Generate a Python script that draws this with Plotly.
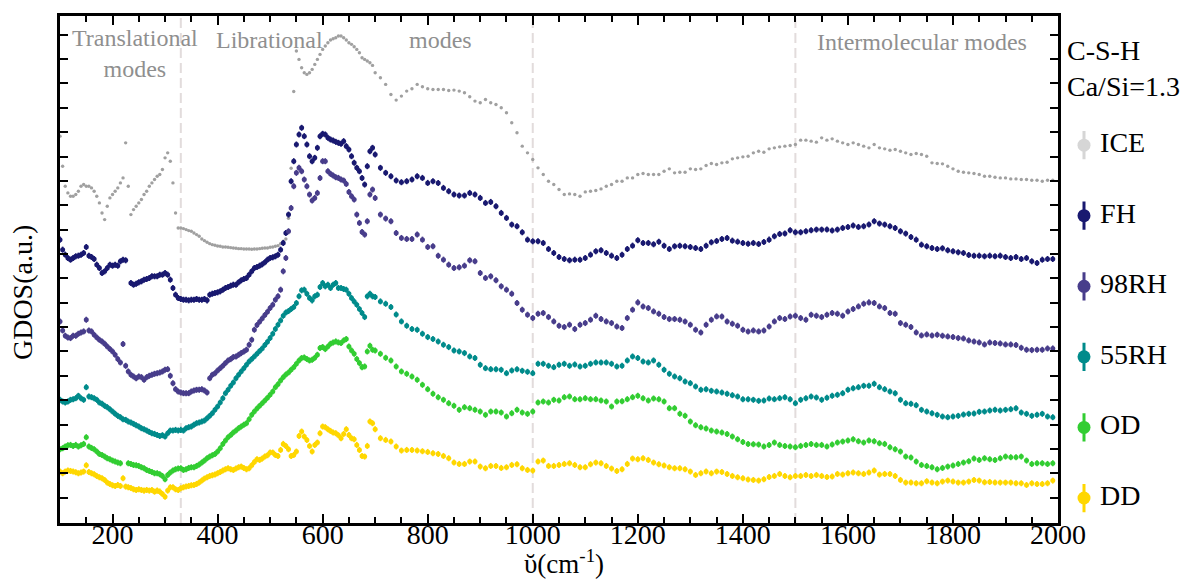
import plotly.graph_objects as go

# Frequency grid (cm-1)
FREQ = [
    100, 105, 110, 115, 120, 125, 130, 135, 140, 145,
    150, 155, 160, 165, 170, 175, 180, 185, 190, 195,
    200, 205, 210, 215, 220, 225, 230, 235, 240, 245,
    250, 255, 260, 265, 270, 275, 280, 285, 290, 295,
    300, 305, 310, 315, 320, 325, 330, 335, 340, 345,
    350, 355, 360, 365, 370, 375, 380, 385, 390, 395,
    400, 405, 410, 415, 420, 425, 430, 435, 440, 445,
    450, 455, 460, 465, 470, 475, 480, 485, 490, 495,
    500, 505, 510, 515, 520, 525, 530, 535, 540, 545,
    550, 555, 560, 565, 570, 575, 580, 585, 590, 595,
    600, 605, 610, 615, 620, 625, 630, 635, 640, 645,
    650, 655, 660, 665, 670, 675, 680, 685, 690, 695,
    700, 710, 720, 730, 740, 750, 760, 770, 780, 790,
    800, 810, 820, 830, 840, 850, 860, 870, 880, 890,
    900, 910, 920, 930, 940, 950, 960, 970, 980, 990,
    1000, 1010, 1020, 1030, 1040, 1050, 1060, 1070, 1080, 1090,
    1100, 1110, 1120, 1130, 1140, 1150, 1160, 1170, 1180, 1190,
    1200, 1210, 1220, 1230, 1240, 1250, 1260, 1270, 1280, 1290,
    1300, 1310, 1320, 1330, 1340, 1350, 1360, 1370, 1380, 1390,
    1400, 1410, 1420, 1430, 1440, 1450, 1460, 1470, 1480, 1490,
    1500, 1510, 1520, 1530, 1540, 1550, 1560, 1570, 1580, 1590,
    1600, 1610, 1620, 1630, 1640, 1650, 1660, 1670, 1680, 1690,
    1700, 1710, 1720, 1730, 1740, 1750, 1760, 1770, 1780, 1790,
    1800, 1810, 1820, 1830, 1840, 1850, 1860, 1870, 1880, 1890,
    1900, 1910, 1920, 1930, 1940, 1950, 1960, 1970, 1980, 1990,
]

# GDOS (a.u., vertically offset curves)
ICE = [
    11.56, 10.66, 10.06, 9.86, 9.76, 9.76, 9.81, 9.91, 10.06, 10.11,
    10.06, 10.06, 10.01, 9.91, 9.76, 9.56, 9.26, 9.06, 9.46, 9.71,
    9.81, 9.91, 10.01, 10.16, 10.31, 11.36, 10.06, 9.21, 9.36, 9.46,
    9.56, 9.66, 9.81, 9.91, 10.06, 10.16, 10.26, 10.36, 10.41, 10.56,
    10.91, 11.06, 10.81, 10.16, 9.26, 8.81, 8.81, 8.79, 8.76, 8.73,
    8.71, 8.66, 8.61, 8.56, 8.48, 8.43, 8.38, 8.34, 8.31, 8.29,
    8.27, 8.26, 8.24, 8.24, 8.23, 8.22, 8.21, 8.20, 8.19, 8.19,
    8.18, 8.18, 8.18, 8.17, 8.18, 8.18, 8.19, 8.20, 8.21, 8.21,
    8.23, 8.24, 8.26, 8.28, 8.34, 8.41, 8.48, 9.10, 10.60, 12.90,
    14.11, 13.86, 13.61, 13.46, 13.41, 13.46, 13.56, 13.71, 13.86, 14.01,
    14.16, 14.26, 14.36, 14.44, 14.48, 14.51, 14.56, 14.56, 14.51, 14.44,
    14.36, 14.31, 14.24, 14.16, 14.06, 13.91, 13.86, 13.81, 13.76, 13.68,
    13.46, 13.31, 13.11, 12.81, 12.64, 12.76, 12.91, 12.98, 13.11, 13.04,
    12.98, 12.96, 12.96, 12.96, 12.93, 12.94, 12.91, 12.86, 12.74, 12.61,
    12.56, 12.66, 12.56, 12.51, 12.41, 12.26, 11.96, 11.66, 11.26, 11.06,
    10.86, 10.61, 10.41, 10.21, 10.11, 9.96, 9.81, 9.83, 9.81, 9.76,
    9.89, 9.91, 9.93, 9.98, 10.06, 10.11, 10.21, 10.21, 10.31, 10.31,
    10.41, 10.44, 10.41, 10.41, 10.41, 10.51, 10.58, 10.46, 10.48, 10.48,
    10.58, 10.56, 10.58, 10.68, 10.74, 10.71, 10.76, 10.78, 10.88, 10.91,
    10.94, 10.96, 11.06, 11.11, 11.08, 11.18, 11.21, 11.24, 11.26, 11.28,
    11.31, 11.44, 11.44, 11.41, 11.38, 11.51, 11.44, 11.48, 11.41, 11.36,
    11.31, 11.36, 11.31, 11.26, 11.21, 11.31, 11.21, 11.18, 11.14, 11.16,
    11.11, 11.06, 11.01, 11.04, 11.01, 10.96, 10.76, 10.74, 10.73, 10.66,
    10.58, 10.51, 10.48, 10.46, 10.44, 10.41, 10.36, 10.36, 10.33, 10.31,
    10.31, 10.28, 10.28, 10.26, 10.26, 10.24, 10.24, 10.21, 10.24, 10.24,
]

FH = [
    8.46, 8.16, 8.01, 7.91, 7.86, 7.91, 7.96, 7.98, 8.01, 8.06,
    8.24, 7.98, 7.94, 7.88, 7.71, 7.61, 7.46, 7.51, 7.61, 7.71,
    7.68, 7.71, 7.68, 7.81, 7.86, 7.84, None, 7.16, 7.11, 7.14,
    7.18, 7.21, 7.26, 7.28, 7.31, 7.36, 7.36, 7.36, 7.41, 7.41,
    7.46, 7.41, 7.26, 7.01, 6.81, 6.71, 6.68, 6.66, 6.66, 6.64,
    6.66, 6.66, 6.68, 6.66, 6.66, 6.68, 6.64, 6.81, 6.84, 6.86,
    6.88, 6.91, 6.96, 7.01, 7.04, 7.08, 7.11, 7.11, 7.18, 7.24,
    7.28, 7.31, 7.41, 7.51, 7.61, 7.64, 7.68, 7.72, 7.78, 7.86,
    7.91, 7.93, 7.96, 8.01, 8.16, 8.36, 8.66, 9.21, 10.21, 10.81,
    11.31, 11.61, 11.81, 11.56, 11.31, 10.96, 10.81, 10.91, 11.21, 11.56,
    11.63, 11.61, 11.51, 11.46, 11.43, 11.39, 11.36, 11.33, 11.41, 11.26,
    11.16, 10.96, 10.76, 10.61, 10.51, 10.31, 10.11, 10.66, 11.11, 11.21,
    11.01, 10.61, 10.46, 10.36, 10.23, 10.18, 10.21, 10.26, 10.36, 10.31,
    10.16, 10.21, 10.16, 10.01, 9.91, 9.81, 9.78, 9.78, 9.86, 9.81,
    9.71, 9.56, 9.59, 9.46, 9.26, 9.11, 8.91, 8.86, 8.68, 8.46,
    8.41, 8.41, 8.36, 8.18, 8.06, 7.94, 7.88, 7.84, 7.86, 7.86,
    7.91, 8.01, 8.11, 8.14, 8.06, 7.98, 7.91, 8.01, 8.18, 8.28,
    8.44, 8.36, 8.36, 8.32, 8.40, 8.28, 8.18, 8.26, 8.28, 8.26,
    8.24, 8.21, 8.18, 8.28, 8.38, 8.42, 8.48, 8.51, 8.43, 8.40,
    8.36, 8.34, 8.36, 8.33, 8.39, 8.46, 8.56, 8.63, 8.64, 8.74,
    8.68, 8.68, 8.71, 8.74, 8.76, 8.76, 8.76, 8.73, 8.76, 8.81,
    8.84, 8.88, 8.84, 8.86, 8.91, 9.01, 8.94, 8.91, 8.86, 8.81,
    8.71, 8.64, 8.54, 8.46, 8.31, 8.26, 8.21, 8.18, 8.20, 8.14,
    8.11, 8.08, 8.06, 8.00, 7.98, 7.98, 7.96, 7.98, 7.96, 7.98,
    7.94, 7.91, 7.94, 7.88, 7.91, 7.81, 7.76, 7.86, 7.88, 7.88,
]

RH98 = [
    6.01, 5.74, 5.58, 5.53, 5.51, 5.58, 5.58, 5.64, 5.68, 5.71,
    6.06, 5.74, 5.71, 5.61, 5.53, 5.46, 5.41, 5.34, 5.26, 5.18,
    5.11, 5.01, 4.88, 4.78, 5.33, 4.68, 4.51, 4.41, 4.36, 4.31,
    4.36, 4.34, 4.26, 4.34, 4.38, 4.41, 4.44, 4.46, 4.48, 4.51,
    4.56, 4.58, 4.38, 4.16, 3.98, 3.91, 3.88, 3.86, 3.86, 3.86,
    3.91, 3.94, 3.96, 3.96, 3.98, 3.94, 3.88, 4.31, 4.41, 4.46,
    4.54, 4.61, 4.68, 4.76, 4.84, 4.88, 4.94, 4.96, 5.01, 5.06,
    5.11, 5.16, 5.31, 5.46, 5.76, 5.90, 6.00, 6.10, 6.20, 6.30,
    6.41, 6.51, 6.66, 6.76, 6.96, 7.51, 7.91, 8.71, 9.41, 10.06,
    10.46, 10.61, 10.51, 10.26, 10.06, 9.81, 9.63, 9.71, 9.86, 10.31,
    10.81, 10.81, 10.51, 10.43, 10.38, 10.33, 10.31, 10.26, 10.23, 10.13,
    9.89, 9.76, 9.66, 9.21, 8.96, 8.69, 8.61, 9.01, 9.81, 9.96,
    9.71, 9.21, 9.09, 9.01, 8.66, 8.51, 8.48, 8.48, 8.61, 8.46,
    8.24, 8.26, 7.98, 7.86, 7.71, 7.61, 7.63, 7.68, 7.84, 7.81,
    7.46, 7.31, 7.36, 7.24, 7.06, 6.96, 6.84, 6.56, 6.36, 6.21,
    6.11, 6.24, 6.26, 6.14, 6.01, 5.88, 5.84, 5.91, 5.78, 5.91,
    5.96, 6.06, 6.18, 6.08, 6.01, 5.96, 5.86, 5.81, 6.11, 6.36,
    6.58, 6.46, 6.41, 6.31, 6.24, 6.14, 6.08, 6.08, 6.06, 6.01,
    5.91, 5.76, 5.68, 5.91, 6.06, 6.16, 6.16, 6.01, 5.94, 5.88,
    5.76, 5.71, 5.74, 5.71, 5.74, 5.86, 6.01, 6.11, 6.08, 6.16,
    6.18, 6.11, 6.06, 6.21, 6.18, 6.14, 6.21, 6.26, 6.24, 6.18,
    6.31, 6.38, 6.46, 6.54, 6.58, 6.56, 6.46, 6.41, 6.26, 6.24,
    5.96, 5.91, 5.84, 5.68, 5.59, 5.62, 5.59, 5.61, 5.58, 5.56,
    5.54, 5.51, 5.50, 5.44, 5.41, 5.38, 5.32, 5.38, 5.36, 5.35,
    5.32, 5.32, 5.30, 5.22, 5.16, 5.15, 5.16, 5.16, 5.20, 5.20,
]

RH55 = [
    3.66, 3.61, 3.58, 3.61, 3.66, 3.68, 3.71, 3.78, 3.71, 3.66,
    4.04, 3.76, 3.74, 3.71, 3.66, 3.58, 3.54, 3.48, 3.44, 3.38,
    3.31, 3.24, 3.18, 3.14, 3.08, 3.06, 3.01, 2.98, 2.94, 2.90,
    2.86, 2.81, 2.78, 2.74, 2.70, 2.66, 2.64, 2.61, 2.58, 2.60,
    2.56, 2.66, 2.74, 2.74, 2.76, 2.74, 2.76, 2.74, 2.81, 2.84,
    2.86, 2.91, 2.96, 2.98, 3.01, 3.04, 3.11, 3.18, 3.26, 3.36,
    3.46, 3.58, 3.71, 3.86, 3.96, 4.08, 4.18, 4.31, 4.41, 4.51,
    4.61, 4.71, 4.81, 4.88, 4.96, 5.04, 5.12, 5.20, 5.30, 5.40,
    5.51, 5.64, 5.78, 5.91, 6.04, 6.18, 6.28, 6.32, 6.38, 6.44,
    6.56, 6.76, 6.94, 6.96, 6.84, 6.71, 6.64, 6.76, 6.81, 7.04,
    7.16, 7.06, 7.11, 7.01, 7.11, 7.16, 7.01, 7.01, 6.98, 6.96,
    6.84, 6.71, 6.61, 6.51, 6.38, 6.26, 6.14, 6.76, 6.84, 6.76,
    6.74, 6.61, 6.54, 6.44, 6.22, 6.01, 5.88, 5.78, 5.76, 5.64,
    5.54, 5.48, 5.41, 5.31, 5.24, 5.14, 5.11, 5.06, 4.96, 4.91,
    4.71, 4.61, 4.58, 4.58, 4.56, 4.46, 4.54, 4.58, 4.53, 4.50,
    4.46, 4.74, 4.74, 4.68, 4.64, 4.71, 4.74, 4.68, 4.72, 4.66,
    4.68, 4.74, 4.78, 4.78, 4.78, 4.74, 4.66, 4.68, 4.84, 4.96,
    4.91, 4.81, 4.78, 4.84, 4.71, 4.56, 4.44, 4.36, 4.31, 4.21,
    4.16, 4.06, 3.96, 3.98, 3.93, 3.91, 3.88, 3.84, 3.80, 3.76,
    3.68, 3.68, 3.66, 3.63, 3.64, 3.70, 3.68, 3.71, 3.74, 3.68,
    3.56, 3.66, 3.71, 3.76, 3.73, 3.66, 3.72, 3.78, 3.81, 3.86,
    3.96, 4.01, 4.04, 4.08, 4.08, 4.14, 4.04, 3.98, 3.91, 3.86,
    3.66, 3.56, 3.54, 3.50, 3.36, 3.31, 3.26, 3.21, 3.16, 3.14,
    3.16, 3.18, 3.22, 3.24, 3.25, 3.30, 3.31, 3.34, 3.36, 3.34,
    3.36, 3.38, 3.41, 3.28, 3.24, 3.18, 3.21, 3.24, 3.16, 3.14,
]

OD = [
    2.18, 2.21, 2.26, 2.30, 2.31, 2.28, 2.31, 2.26, 2.30, 2.34,
    2.54, 2.26, 2.22, 2.18, 2.11, 2.04, 2.01, 1.96, 1.91, 1.88,
    1.84, 1.81, 1.78, 1.76, None, None, 1.76, 1.74, 1.71, 1.70,
    1.68, 1.64, 1.61, 1.56, 1.53, 1.50, 1.46, 1.46, 1.43, 1.38,
    1.28, 1.41, 1.48, 1.54, 1.58, 1.60, 1.61, 1.56, 1.58, 1.62,
    1.64, 1.64, 1.68, 1.72, 1.78, 1.84, 1.91, 1.96, 2.00, 2.04,
    2.11, 2.21, 2.34, 2.44, 2.54, 2.61, 2.68, 2.74, 2.81, 2.86,
    2.91, 2.96, 3.08, 3.21, 3.31, 3.40, 3.48, 3.56, 3.64, 3.72,
    3.81, 3.91, 4.04, 4.13, 4.24, 4.34, 4.42, 4.48, 4.56, 4.64,
    4.74, 4.84, 4.91, 4.93, 4.88, 4.84, 4.86, 4.92, 5.01, 5.21,
    5.24, 5.18, 5.26, 5.34, 5.38, 5.41, 5.38, 5.36, 5.44, 5.48,
    5.26, 5.14, 5.04, 4.88, 4.76, 4.64, 4.66, 5.11, 5.28, 5.16,
    5.14, 5.04, 4.92, 4.84, 4.66, 4.51, 4.44, 4.36, 4.26, 4.11,
    3.98, 3.84, 3.74, 3.66, 3.56, 3.48, 3.36, 3.44, 3.41, 3.36,
    3.31, 3.21, 3.31, 3.31, 3.28, 3.16, 3.26, 3.36, 3.28, 3.24,
    3.31, 3.58, 3.61, 3.58, 3.66, 3.64, 3.74, 3.76, 3.68, 3.68,
    3.71, 3.68, 3.68, 3.64, 3.61, 3.46, 3.61, 3.62, 3.68, 3.74,
    3.78, 3.71, 3.64, 3.70, 3.68, 3.61, 3.41, 3.41, 3.24, 3.18,
    3.01, 2.90, 2.84, 2.80, 2.74, 2.71, 2.68, 2.64, 2.56, 2.48,
    2.40, 2.34, 2.33, 2.32, 2.26, 2.31, 2.38, 2.31, 2.28, 2.26,
    2.24, 2.28, 2.31, 2.34, 2.31, 2.31, 2.26, 2.32, 2.38, 2.41,
    2.44, 2.48, 2.42, 2.38, 2.44, 2.42, 2.36, 2.34, 2.24, 2.18,
    2.11, 1.96, 1.93, 1.81, 1.71, 1.68, 1.64, 1.58, 1.62, 1.66,
    1.69, 1.74, 1.78, 1.82, 1.90, 1.86, 1.91, 1.88, 1.86, 1.91,
    1.96, 1.94, 1.94, 1.96, 1.84, 1.74, 1.76, 1.76, 1.74, 1.76,
]

DD = [
    1.51, 1.46, 1.51, 1.54, 1.53, 1.51, 1.49, 1.46, 1.48, 1.51,
    1.70, 1.50, 1.46, 1.43, 1.38, 1.34, 1.31, 1.26, 1.18, 1.14,
    1.10, 1.08, 1.11, 1.08, 1.31, 1.06, 1.04, 1.02, 0.98, 0.96,
    0.98, 0.96, 0.94, 0.96, 0.94, 0.96, 0.91, 0.94, 0.91, 0.84,
    0.76, 0.94, 1.04, 1.04, 0.98, 0.96, 1.01, 1.04, 1.06, 1.08,
    1.10, 1.11, 1.14, 1.18, 1.24, 1.30, 1.34, 1.38, 1.40, 1.42,
    1.46, 1.50, 1.54, 1.58, 1.61, 1.58, 1.56, 1.60, 1.64, 1.66,
    1.62, 1.58, 1.61, 1.70, 1.80, 1.88, 1.86, 1.90, 1.96, 2.00,
    2.08, 2.08, 2.01, 1.98, 2.16, 2.34, 2.28, 2.18, 1.98, 2.01,
    2.11, 2.58, 2.71, 2.56, 2.46, 2.28, 2.11, 2.31, 2.38, 2.66,
    2.86, 2.84, 2.78, 2.73, 2.68, 2.66, 2.60, 2.51, 2.64, 2.78,
    2.61, 2.51, 2.48, 2.31, 2.16, 1.98, 1.96, 2.28, 3.01, 2.96,
    2.78, 2.51, 2.46, 2.41, 2.26, 2.14, 2.16, 2.16, 2.14, 2.12,
    2.10, 2.06, 2.04, 1.98, 1.91, 1.78, 1.74, 1.74, 1.81, 1.81,
    1.66, 1.61, 1.68, 1.68, 1.62, 1.64, 1.71, 1.73, 1.61, 1.56,
    1.54, 1.81, 1.84, 1.68, 1.68, 1.71, 1.74, 1.76, 1.71, 1.64,
    1.64, 1.73, 1.78, 1.76, 1.68, 1.60, 1.53, 1.58, 1.74, 1.90,
    1.88, 1.91, 1.86, 1.78, 1.73, 1.69, 1.64, 1.61, 1.61, 1.58,
    1.51, 1.41, 1.46, 1.51, 1.46, 1.51, 1.50, 1.44, 1.38, 1.34,
    1.31, 1.27, 1.26, 1.24, 1.28, 1.35, 1.38, 1.44, 1.38, 1.34,
    1.38, 1.38, 1.41, 1.38, 1.41, 1.38, 1.35, 1.36, 1.44, 1.42,
    1.46, 1.48, 1.46, 1.44, 1.48, 1.54, 1.42, 1.44, 1.44, 1.38,
    1.26, 1.18, 1.18, 1.16, 1.16, 1.22, 1.18, 1.16, 1.21, 1.24,
    1.21, 1.18, 1.18, 1.21, 1.26, 1.24, 1.19, 1.20, 1.18, 1.18,
    1.18, 1.18, 1.16, 1.16, 1.11, 1.16, 1.14, 1.14, 1.16, 1.24,
]

SERIES_NAMES = ["ICE", "FH", "98RH", "55RH", "OD", "DD"]
SERIES_VALUES = [ICE, FH, RH98, RH55, OD, DD]
DATA_COLORS = ["#a0a0a0", "#191970", "#483d8b", "#008b8b", "#32cd32", "#ffd700"]
LEGEND_COLORS = ["#d6d6d6", "#191970", "#483d8b", "#008b8b", "#32cd32", "#ffd700"]

REGION_BOUNDS = [330, 1000, 1500]
REGION_LABELS = ["Translational<br>modes", "Librational", "modes", "Intermolecular modes"]
REGION_LABEL_X = [243, 498, 825, 1741]

SAMPLE_LINES = ["C-S-H", "Ca/Si=1.3"]

SERIF = "Liberation Serif"

fig = go.Figure()

for name, vals, col in zip(SERIES_NAMES, SERIES_VALUES, DATA_COLORS):
    if name == "ICE":
        fig.add_trace(go.Scatter(
            x=FREQ, y=vals, mode="markers", name=name, showlegend=False,
            marker=dict(size=3.4, color=col),
        ))
    else:
        fig.add_trace(go.Scatter(
            x=FREQ, y=vals, mode="markers", name=name, showlegend=False,
            marker=dict(size=5, color=col),
            error_y=dict(type="constant", value=0.09, color=col, thickness=1.6, width=0),
        ))

# legend drawn on a small side axis
n = len(SERIES_NAMES)
for i, (name, col) in enumerate(zip(SERIES_NAMES, LEGEND_COLORS)):
    fig.add_trace(go.Scatter(
        x=[0], y=[n - 1 - i], xaxis="x2", yaxis="y2", mode="markers+text",
        text=["\u00a0" + name], textposition="middle right",
        textfont=dict(family=SERIF, size=28, color="black"),
        marker=dict(size=13, color=col),
        error_y=dict(type="constant", value=0.2, color=col, thickness=3, width=0),
        cliponaxis=False, showlegend=False, hoverinfo="skip",
    ))

shapes = []
for b in REGION_BOUNDS:
    shapes.append(dict(type="line", xref="x", yref="paper", x0=b, x1=b, y0=0, y1=1,
                       line=dict(color="#e2dcdc", width=2, dash="10px,5px"), layer="below"))

annotations = []
label_y = [0.926, 0.953, 0.953, 0.949]
for txt, xv, yv in zip(REGION_LABELS, REGION_LABEL_X, label_y):
    annotations.append(dict(text=txt, x=xv, y=yv, xref="x", yref="paper", showarrow=False,
                            font=dict(family=SERIF, size=24, color="#8f8f8f"),
                            xanchor="center", yanchor="middle", align="center"))
for txt, yv in zip(SAMPLE_LINES, [0.931, 0.860]):
    annotations.append(dict(text=txt, x=0.890, y=yv, xref="paper", yref="paper", showarrow=False,
                            font=dict(family=SERIF, size=28, color="black"),
                            xanchor="left", yanchor="middle"))
# axis titles
annotations.append(dict(text="ῠ(cm<sup>-1</sup>)", x=0.446, y=-0.077, xref="paper", yref="paper",
                        showarrow=False, font=dict(family=SERIF, size=27, color="black"),
                        xanchor="center", yanchor="middle"))
annotations.append(dict(text="GDOS(a.u.)", x=-0.033, y=0.455, xref="paper", yref="paper",
                        showarrow=False, textangle=-90, font=dict(family=SERIF, size=28, color="black"),
                        xanchor="center", yanchor="middle"))

# the page adds an 8 px body margin, so the figure is 8 px smaller and margins 8 px tighter
fig.update_layout(
    width=1181, height=571,
    margin=dict(l=52, r=0, t=8, b=56, autoexpand=False),
    paper_bgcolor="white", plot_bgcolor="white",
    shapes=shapes, annotations=annotations,
    xaxis=dict(
        domain=[0, 0.884], range=[100, 2000], tickmode="linear", tick0=0, dtick=200,
        ticks="inside", ticklen=9, tickwidth=2, tickcolor="black",
        minor=dict(dtick=50, ticks="inside", ticklen=6, tickwidth=2, tickcolor="black"),
        showline=True, linewidth=2.5, linecolor="black", mirror="ticks",
        showgrid=False, zeroline=False, automargin=False,
        tickfont=dict(family=SERIF, size=28, color="black"),
        ticklabelstandoff=-15,
    ),
    yaxis=dict(
        range=[-0.03, 15.16], tickmode="linear", tick0=0, dtick=0.73,
        ticks="inside", ticklen=8, tickwidth=2, tickcolor="black",
        showticklabels=False,
        showline=True, linewidth=2.5, linecolor="black", mirror="ticks",
        showgrid=False, zeroline=False, automargin=False,
    ),
    xaxis2=dict(domain=[0.897, 0.917], range=[-1, 1], visible=False, anchor="y2", automargin=False),
    yaxis2=dict(domain=[0, 1], range=[-0.354, 6.83], visible=False, anchor="x2", automargin=False),
)

fig.write_html("out.html")
